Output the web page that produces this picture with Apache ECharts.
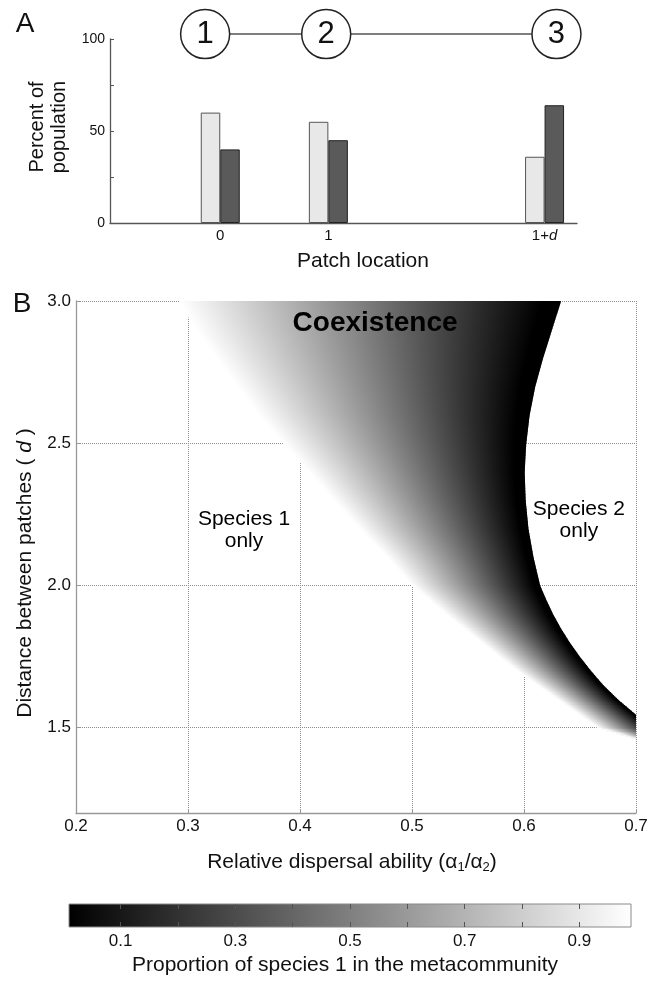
<!DOCTYPE html>
<html>
<head>
<meta charset="utf-8">
<script src="https://cdn.jsdelivr.net/npm/echarts@6/dist/echarts.min.js"></script>
<style>html,body{margin:0;padding:0;background:#fff;}#c{width:653px;height:988px;}</style>
</head>
<body>
<div id="c"></div>
<script>
// ---------- Panel A data ----------
const patchPos = [0, 1, 3];              // patch locations 0, 1, 1+d (d = 2)
const patchLabels = ['0', '1', '1+{i|d}'];
const species1Pct = [60, 55, 36];
const species2Pct = [40, 45, 64];
const nodeX = [-0.14, 0.98, 3.11];        // network diagram circle positions (axis units)
const nodeY = 102.7;
const nodeNames = ['1', '2', '3'];

// ---------- Panel B data (boundaries of coexistence region) ----------
const dRows     = [3.0, 2.9, 2.8, 2.7, 2.6, 2.5, 2.4, 2.3, 2.2, 2.1, 2.0, 1.95, 1.9, 1.85, 1.8, 1.75, 1.7, 1.65, 1.6, 1.55, 1.5, 1.46];
const leftEdge  = [0.292, 0.307, 0.325, 0.344, 0.363, 0.385, 0.408, 0.430, 0.453, 0.478, 0.500, 0.515, 0.530, 0.546, 0.562, 0.578, 0.594, 0.612, 0.630, 0.648, 0.666, 0.700];
const rightEdge = [0.633, 0.625, 0.617, 0.610, 0.605, 0.602, 0.6006, 0.6015, 0.604, 0.6085, 0.6145, 0.620, 0.626, 0.633, 0.641, 0.650, 0.660, 0.671, 0.684, 0.699, 0.715, 0.728];
const yTicksB = [1.5, 2.0, 2.5, 3.0];
const annotations = [
  { name: 'Coexistence', value: [0.467, 2.923], bold: true },
  { name: 'Species 1\nonly', value: [0.35, 2.194], bold: false },
  { name: 'Species 2\nonly', value: [0.649, 2.229], bold: false }
];

// ---------- Colorbar ----------
const cbRange = [0.01, 0.99];
const cbTicks = [0.1, 0.2, 0.3, 0.4, 0.5, 0.6, 0.7, 0.8, 0.9];
const cbLabels = [0.1, 0.3, 0.5, 0.7, 0.9];

const FONT = "'Liberation Sans', Arial, Helvetica, sans-serif";
const chart = echarts.init(document.getElementById('c'), null, { renderer: 'canvas' });

const regionData = [];
for (let i = 0; i < dRows.length - 1; i++) {
  regionData.push([dRows[i], dRows[i + 1], leftEdge[i], leftEdge[i + 1], rightEdge[i], rightEdge[i + 1]]);
}
const regionStops = [
  { offset: 0, color: '#ffffff' },
  { offset: 0.95, color: '#000000' },
  { offset: 1, color: '#000000' }
];
function renderRegion(params, api) {
  const d0 = api.value(0), d1 = api.value(1);
  const pL0 = api.coord([api.value(2), d0]);
  const pL1 = api.coord([api.value(3), d1]);
  const pR0 = api.coord([api.value(4), d0]);
  const pR1 = api.coord([api.value(5), d1]);
  const y0 = pL0[1], y1 = pL1[1];
  const n = Math.max(1, Math.ceil(Math.abs(y1 - y0) / 1.5));
  const children = [];
  for (let j = 0; j < n; j++) {
    const t0 = j / n, t1 = (j + 1) / n, tm = (t0 + t1) / 2;
    const lx0 = pL0[0] + (pL1[0] - pL0[0]) * t0;
    const lx1 = pL0[0] + (pL1[0] - pL0[0]) * t1;
    const rx0 = pR0[0] + (pR1[0] - pR0[0]) * t0;
    const rx1 = pR0[0] + (pR1[0] - pR0[0]) * t1;
    const lxm = pL0[0] + (pL1[0] - pL0[0]) * tm;
    const rxm = pR0[0] + (pR1[0] - pR0[0]) * tm;
    const ya = y0 + (y1 - y0) * t0;
    const yb = y0 + (y1 - y0) * t1 + 0.9;
    children.push({
      type: 'polygon',
      shape: { points: [[lx0, ya], [rx0, ya], [rx1, yb], [lx1, yb]] },
      style: { fill: new echarts.graphic.LinearGradient(lxm, 0, rxm, 0, regionStops, true) }
    });
  }
  return { type: 'group', children };
}

function renderColorbar(params, api) {
  const p0 = api.coord([api.value(0), 1]);
  const p1 = api.coord([api.value(1), 0]);
  return {
    type: 'rect',
    shape: { x: p0[0], y: p0[1], width: p1[0] - p0[0], height: p1[1] - p0[1] },
    style: {
      fill: new echarts.graphic.LinearGradient(0, 0, 1, 0, [
        { offset: 0, color: '#000' }, { offset: 1, color: '#fff' }
      ]),
      stroke: '#8a8a8a', lineWidth: 1
    }
  };
}

const option = {
  backgroundColor: '#ffffff',
  animation: false,
  textStyle: { fontFamily: FONT },
  grid: [
    { left: 110, top: 39, width: 467, height: 184 },
    { left: 76, top: 301, width: 560, height: 512 },
    { left: 69, top: 904, width: 562, height: 23 }
  ],
  xAxis: [
    {
      gridIndex: 0, type: 'value', min: -1.02, max: 3.3,
      axisLine: { onZero: false, lineStyle: { color: '#555', width: 1.3 } },
      axisTick: { show: false, customValues: patchPos },
      splitLine: { show: false },
      axisLabel: {
        customValues: patchPos, margin: 5, fontSize: 15, color: '#111', fontFamily: FONT,
        formatter: function (v) { return patchLabels[patchPos.indexOf(v)] || ''; },
        rich: { i: { fontStyle: 'italic', fontSize: 15, color: '#111', fontFamily: FONT } }
      }
    },
    {
      gridIndex: 1, type: 'value', min: 0.2, max: 0.7, interval: 0.1,
      axisLine: { onZero: false, lineStyle: { color: '#999', width: 1.3 } },
      axisTick: { inside: true, length: 4, lineStyle: { color: '#999' } },
      splitLine: { show: true, lineStyle: { type: 'dotted', color: '#8c8c8c', width: 1 } },
      axisLabel: { margin: 5, fontSize: 17, color: '#111', fontFamily: FONT, formatter: function (v) { return v.toFixed(1); } }
    },
    {
      gridIndex: 2, type: 'value', min: cbRange[0], max: cbRange[1], z: 5,
      axisLine: { show: false, onZero: false },
      axisTick: { inside: true, length: 5, customValues: cbTicks, lineStyle: { color: '#555' } },
      splitLine: { show: false },
      axisLabel: { customValues: cbLabels, margin: 6, fontSize: 17, color: '#111', fontFamily: FONT, formatter: function (v) { return v.toFixed(1); } }
    },
    {
      gridIndex: 2, type: 'value', position: 'top', min: cbRange[0], max: cbRange[1], z: 5,
      axisLine: { show: false, onZero: false },
      axisTick: { inside: true, length: 5, customValues: cbTicks, lineStyle: { color: '#555' } },
      splitLine: { show: false },
      axisLabel: { show: false }
    }
  ],
  yAxis: [
    {
      gridIndex: 0, type: 'value', min: 0, max: 100, interval: 25,
      axisLine: { show: true, onZero: false, lineStyle: { color: '#555', width: 1.3 } },
      axisTick: { show: true, inside: true, length: 4, lineStyle: { color: '#555' } },
      splitLine: { show: false },
      axisLabel: { margin: 5, fontSize: 14, color: '#111', fontFamily: FONT, formatter: function (v) { return (v % 50 === 0) ? String(v) : ''; } }
    },
    {
      gridIndex: 1, type: 'value', min: 1.2, max: 3.0,
      axisLine: { show: true, onZero: false, lineStyle: { color: '#999', width: 1.3 } },
      axisTick: { show: true, inside: true, length: 4, customValues: yTicksB, lineStyle: { color: '#999' } },
      splitLine: { show: true, lineStyle: { type: 'dotted', color: '#8c8c8c', width: 1 } },
      axisLabel: { customValues: yTicksB, margin: 5, fontSize: 17, color: '#111', fontFamily: FONT, formatter: function (v) { return v.toFixed(1); } }
    },
    { gridIndex: 2, type: 'value', min: 0, max: 1, show: false }
  ],
  series: [
    {
      type: 'bar', xAxisIndex: 0, yAxisIndex: 0, barWidth: 19.5, barGap: '0%',
      data: patchPos.map((p, i) => [p, species1Pct[i]]),
      itemStyle: { color: '#e8e8e8', borderColor: '#555', borderWidth: 1 }
    },
    {
      type: 'bar', xAxisIndex: 0, yAxisIndex: 0, barWidth: 19.5, barGap: '0%',
      data: patchPos.map((p, i) => [p, species2Pct[i]]),
      itemStyle: { color: '#5a5a5a', borderColor: '#222', borderWidth: 1 }
    },
    {
      type: 'line', xAxisIndex: 0, yAxisIndex: 0, clip: false, z: 3,
      data: nodeX.map(x => [x, nodeY]), symbol: 'none',
      lineStyle: { color: '#555', width: 1.5 }
    },
    {
      type: 'scatter', xAxisIndex: 0, yAxisIndex: 0, clip: false, z: 4,
      data: nodeX.map((x, i) => ({ value: [x, nodeY], name: nodeNames[i] })),
      symbol: 'circle', symbolSize: 49,
      itemStyle: { color: '#fff', borderColor: '#222', borderWidth: 1.5, opacity: 1 },
      label: { show: true, position: 'inside', formatter: '{b}', fontSize: 31, color: '#111', fontFamily: FONT }
    },
    {
      type: 'custom', xAxisIndex: 1, yAxisIndex: 1, clip: true, z: 2,
      renderItem: renderRegion, data: regionData, silent: true
    },
    {
      type: 'scatter', xAxisIndex: 1, yAxisIndex: 1, z: 6, symbolSize: 1,
      itemStyle: { opacity: 0 },
      data: annotations.map(a => ({
        name: a.name, value: a.value,
        label: a.bold ? { fontSize: 28, fontWeight: 'bold', color: '#000', opacity: 1 } : { fontSize: 21, color: '#000', lineHeight: 22, opacity: 1 }
      })),
      label: { show: true, position: 'inside', formatter: '{b}', fontFamily: FONT, align: 'center', verticalAlign: 'middle', opacity: 1 }
    },
    {
      type: 'custom', xAxisIndex: 2, yAxisIndex: 2, z: 1,
      renderItem: renderColorbar, data: [cbRange], silent: true
    }
  ],
  graphic: [
    { type: 'text', x: 25, y: 24, style: { text: 'A', font: '28px ' + FONT, fill: '#111', align: 'center', verticalAlign: 'middle' } },
    { type: 'text', x: 22, y: 304, style: { text: 'B', font: '28px ' + FONT, fill: '#111', align: 'center', verticalAlign: 'middle' } },
    { type: 'text', x: 48, y: 127, rotation: Math.PI / 2, style: { text: 'Percent of\npopulation', font: '20px ' + FONT, lineHeight: 22, fill: '#111', align: 'center', verticalAlign: 'middle' } },
    { type: 'text', x: 363, y: 261, style: { text: 'Patch location', font: '21px ' + FONT, fill: '#111', align: 'center', verticalAlign: 'middle' } },
    { type: 'text', x: 25, y: 573, rotation: Math.PI / 2, style: {
        text: 'Distance between patches ( {i|d} )', font: '21px ' + FONT, fill: '#111', align: 'center', verticalAlign: 'middle',
        rich: { i: { fontStyle: 'italic', fontSize: 21, fontFamily: FONT, fill: '#111' } } } },
    { type: 'text', x: 352, y: 862, style: {
        text: 'Relative dispersal ability (α{s|1}/α{s|2})', font: '21px ' + FONT, fill: '#111', align: 'center', verticalAlign: 'middle',
        rich: { s: { fontSize: 13, fontFamily: FONT, fill: '#111', verticalAlign: 'bottom', padding: [10, 0, 0, 0] } } } },
    { type: 'text', x: 345, y: 965, style: { text: 'Proportion of species 1 in the metacommunity', font: '21px ' + FONT, fill: '#111', align: 'center', verticalAlign: 'middle' } }
  ]
};
chart.setOption(option);
</script>
</body>
</html>
